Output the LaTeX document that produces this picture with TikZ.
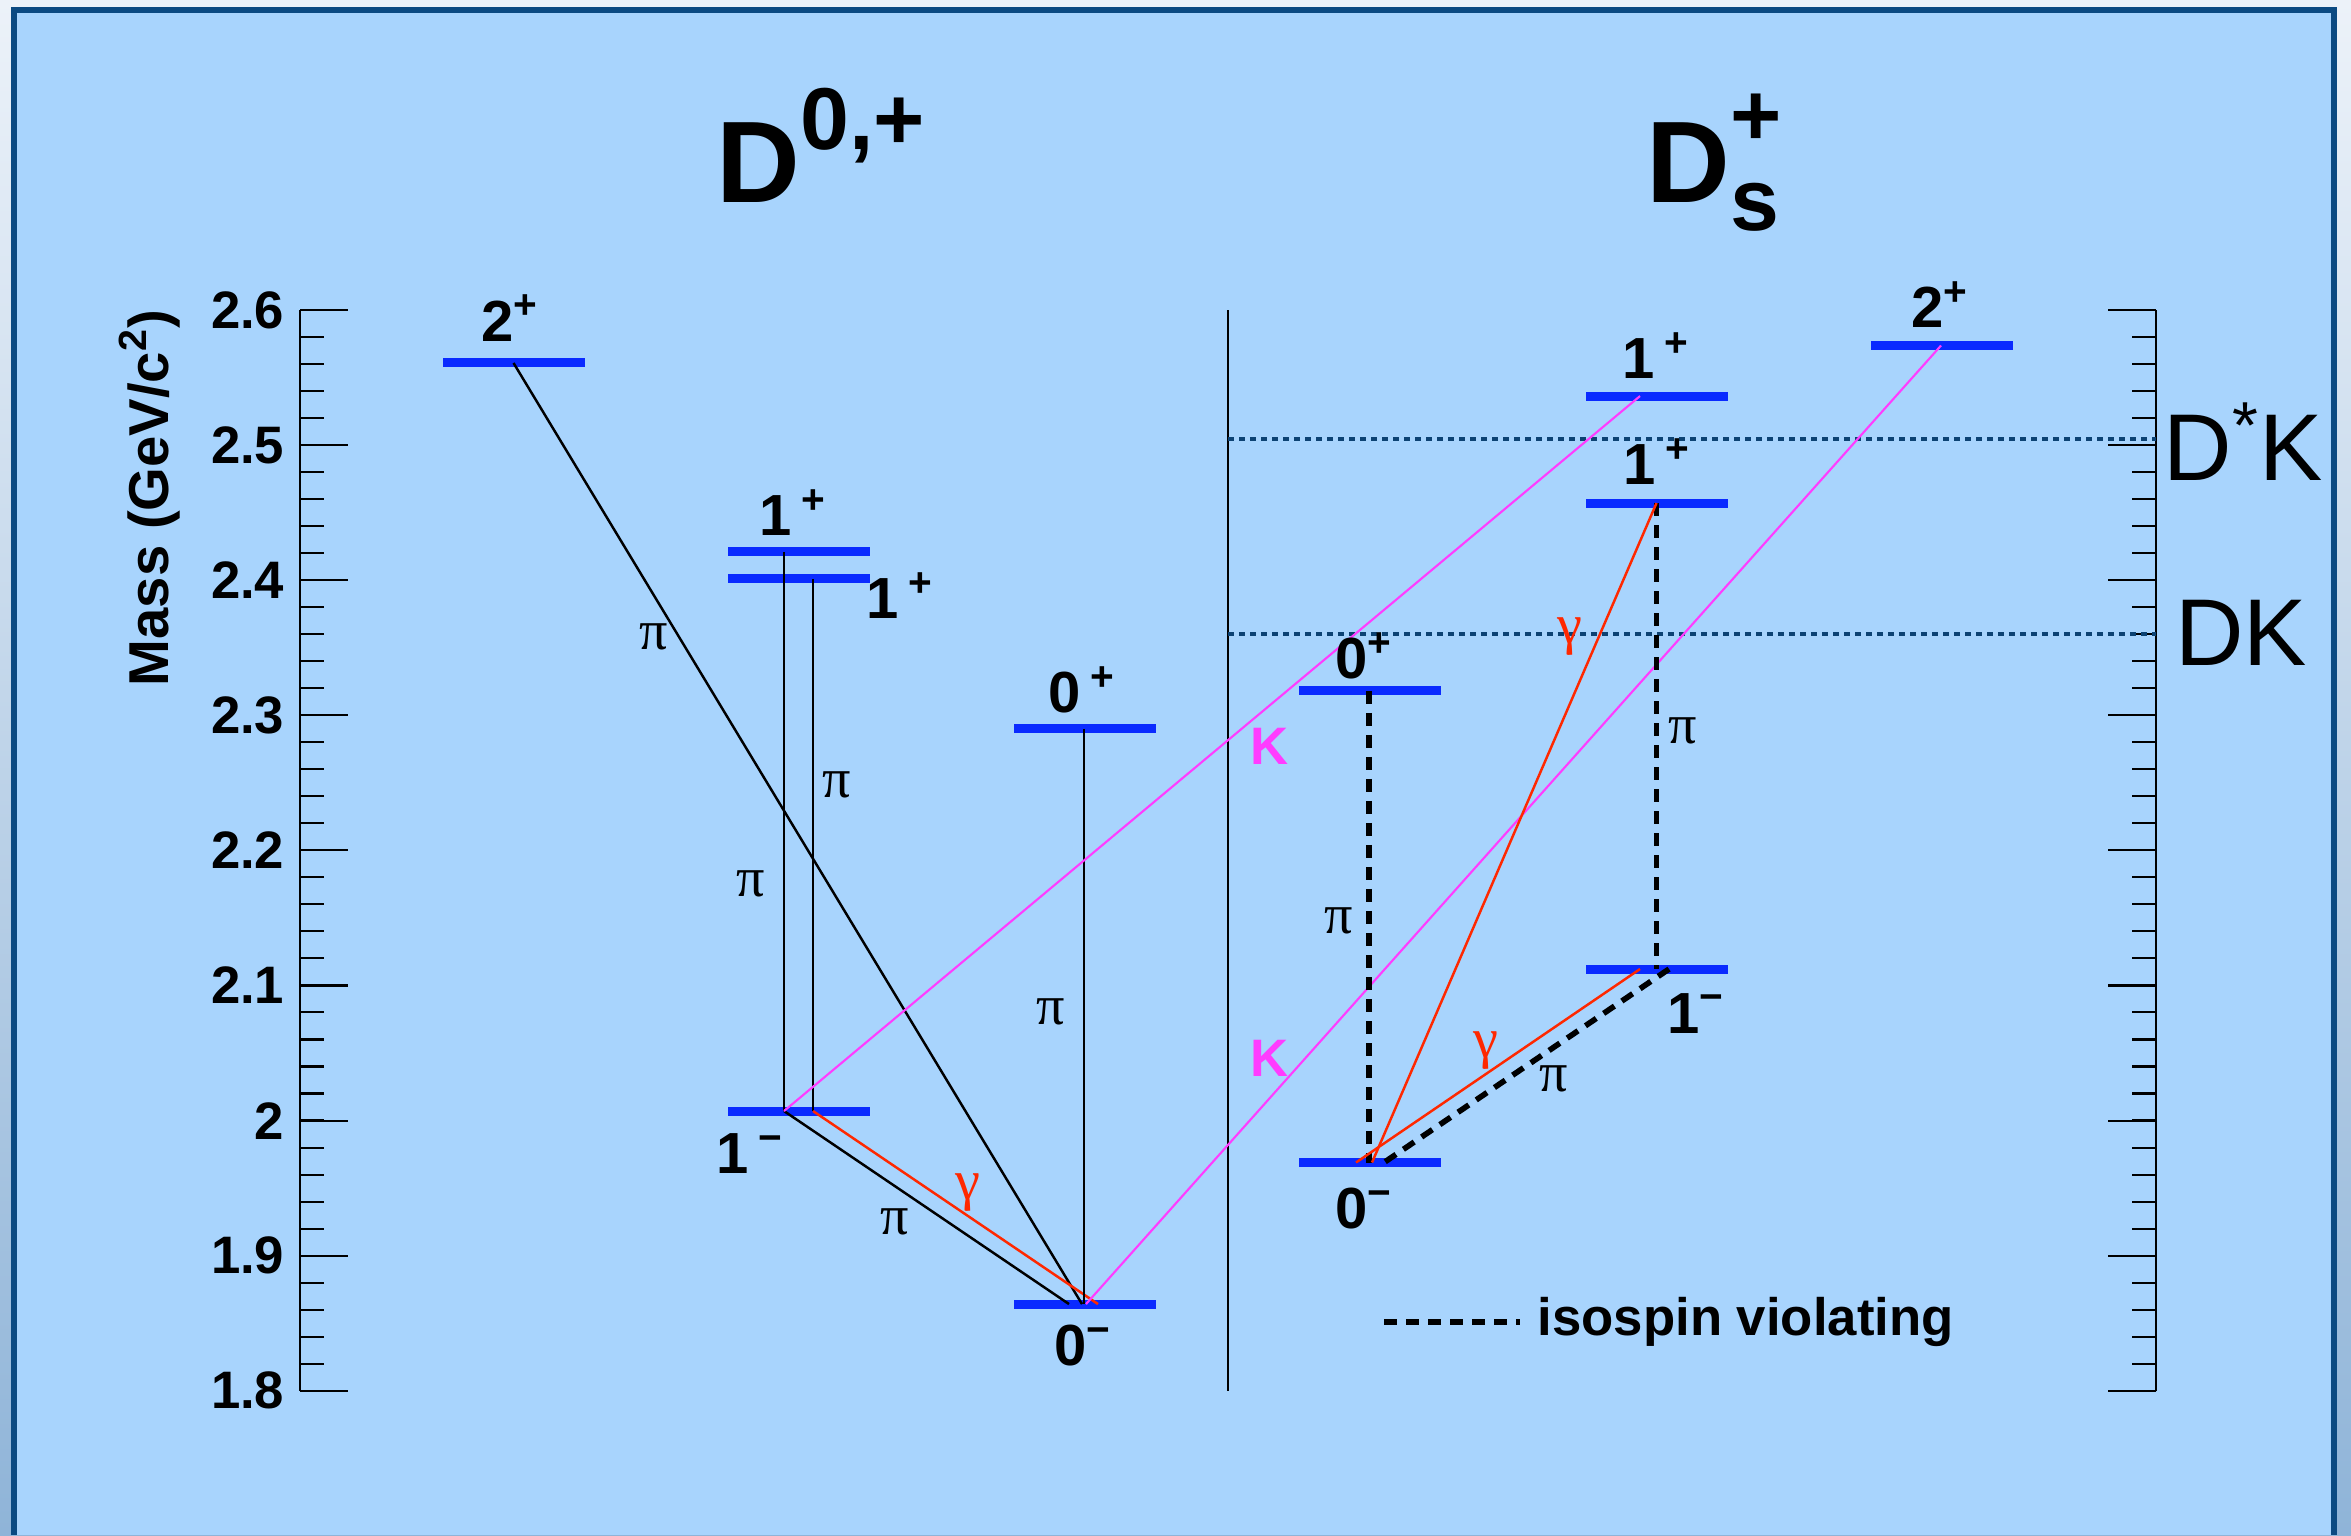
\documentclass[tikz,border=0pt]{standalone}
\usepackage{fontspec}
\setmainfont{Liberation Sans}
\newfontfamily\greekfont{Liberation Serif}

\begin{document}
\begin{tikzpicture}[
    bar/.style={fill=lvlblue, minimum width=1.42cm, minimum height=0.09cm, inner sep=0pt},
    axis/.style={black, line width=0.8pt},
    tick/.style={black, line width=0.6pt},
    ticklab/.style={font=\bfseries\fontsize{15}{18}\selectfont, inner sep=0pt},
    title/.style={font=\bfseries\fontsize{33}{40}\selectfont, inner sep=0pt},
    thrlab/.style={font=\fontsize{27}{32}\selectfont, inner sep=0pt},
    jp/.style={font=\bfseries\fontsize{16.5}{20}\selectfont, inner sep=0pt},
    pilab/.style={font=\greekfont\fontsize{16}{19}\selectfont, inner sep=0pt},
    glab/.style={pilab, text=gamred},
    klab/.style={font=\bfseries\fontsize{15}{18}\selectfont, text=kmag, inner sep=0pt},
    legtxt/.style={font=\bfseries\fontsize{15}{18}\selectfont, inner sep=0pt},
    pitr/.style={black, line width=0.7pt},
    gtr/.style={gamred, line width=0.7pt},
    ktr/.style={kmag, line width=0.6pt},
    isov/.style={black, line width=1.6pt, dash pattern=on 0.13cm off 0.09cm},
    thr/.style={thrblue, line width=1.2pt, dash pattern=on 0.06cm off 0.05cm}
  ]
    \definecolor{pagetop}{RGB}{236,242,249}
    \definecolor{pagebot}{RGB}{143,180,216}
    \definecolor{panel}{RGB}{168,212,253}
    \definecolor{frameblue}{RGB}{11,74,130}
    \definecolor{lvlblue}{RGB}{10,42,255}
    \definecolor{kmag}{RGB}{255,60,255}
    \definecolor{gamred}{RGB}{255,40,0}
    \definecolor{thrblue}{RGB}{12,66,115}

    \useasboundingbox (0,0) rectangle (23.51,15.35);
    \shade[top color=pagetop, bottom color=pagebot] (0,0) rectangle (23.51,15.35);
    \fill[panel] (0.138,0) rectangle (23.34,15.25);
    \draw[frameblue, line width=0.055cm] (0.138,0) -- (0.138,15.25) -- (23.34,15.25) -- (23.34,0);

    % mass scale: x in cm, y in GeV/c^2
    \begin{scope}[y=13.51cm, yshift=-22.876cm]

    % axes
    \draw[axis] (3.00,1.8) -- (3.00,2.6);
    \draw[axis] (21.56,1.8) -- (21.56,2.6);
    \foreach \i in {0,...,40} {
        \draw[tick] (3.00,{1.8+0.02*\i}) -- (3.24,{1.8+0.02*\i});
        \draw[tick] (21.56,{1.8+0.02*\i}) -- (21.32,{1.8+0.02*\i});
    }
    \foreach \i in {0,...,8} {
        \draw[tick] (3.00,{1.8+0.1*\i}) -- (3.48,{1.8+0.1*\i});
        \draw[tick] (21.56,{1.8+0.1*\i}) -- (21.08,{1.8+0.1*\i});
    }
    \foreach \m/\lab [count=\k] in {1.8/1.8,1.9/1.9,2/2,2.1/2.1,2.2/2.2,2.3/2.3,2.4/2.4,2.5/2.5,2.6/2.6}
        \node[ticklab, anchor=east] (tl\k) at (2.85,\m) {\lab};
    \node[ticklab, font=\bfseries\fontsize{16}{19}\selectfont, rotate=90] (ylab) at (1.50,2.461) {Mass (GeV/c\textsuperscript{2})};

    % titles
    \node[title, anchor=base west] (tD) at (7.16,2.6799) {D\raisebox{15pt}{\fontsize{25}{30}\selectfont 0,+}};
    \node[title, anchor=base west] (tDs) at (16.46,2.6799) {D\rlap{\raisebox{16pt}{\fontsize{25}{30}\selectfont +}}\raisebox{-8pt}{\fontsize{25}{30}\selectfont s}};

    % separator and thresholds
    \draw[axis] (12.28,1.8) -- (12.28,2.6);
    \draw[thr] (12.28,2.5045) -- (21.56,2.5045);
    \draw[thr] (12.28,2.360) -- (21.56,2.360);
    \node[thrlab, anchor=base west] (DsK) at (21.63,2.474) {D\textsuperscript{*}K};
    \node[thrlab, anchor=base west] (DK) at (21.745,2.337) {DK};

    % levels
    \node[bar] (D2) at (5.135,2.5608) {};
    \node[bar] (D1a) at (7.985,2.4209) {};
    \node[bar] (D1b) at (7.985,2.4009) {};
    \node[bar] (D0p) at (10.85,2.2899) {};
    \node[bar] (D1m) at (7.985,2.0071) {};
    \node[bar] (D0m) at (10.85,1.8642) {};
    \node[bar] (S0p) at (13.70,2.318) {};
    \node[bar] (S0m) at (13.70,1.969) {};
    \node[bar] (S1a) at (16.565,2.5363) {};
    \node[bar] (S1b) at (16.565,2.4571) {};
    \node[bar] (S1m) at (16.565,2.1122) {};
    \node[bar] (S2) at (19.415,2.5737) {};

    % transitions
    \draw[pitr] (D2.center) -- ([xshift=-0.3mm]D0m.center);
    \draw[pitr] ([xshift=-1.45mm]D1a.center) -- ([xshift=-1.45mm]D1m.center);
    \draw[pitr] ([xshift=1.45mm]D1b.center) -- ([xshift=1.45mm]D1m.center);
    \draw[pitr] ([xshift=-1.45mm]D1m.center) -- ([xshift=-1.6mm]D0m.center);
    \draw[gtr] ([xshift=1.45mm]D1m.center) -- ([xshift=1.3mm]D0m.center);
    \draw[pitr] ([xshift=-0.1mm]D0p.center) -- ([xshift=-0.1mm]D0m.center);
    \draw[ktr] ([xshift=-1.45mm]D1m.center) -- ([xshift=-1.65mm]S1a.center);
    \draw[ktr] ([xshift=0.1mm]D0m.center) -- ([xshift=-0.05mm]S2.center);
    \draw[isov] ([xshift=-0.1mm]S0p.center) -- ([xshift=-0.1mm]S0m.center);
    \draw[isov] (S1b.center) -- (S1m.center);
    \draw[gtr] (S1b.center) -- ([xshift=0.2mm]S0m.center);
    \draw[gtr] ([xshift=-1.65mm]S1m.center) -- ([xshift=-1.4mm]S0m.center);
    \draw[isov] ([xshift=1.25mm]S1m.center) -- ([xshift=1.4mm]S0m.center);

    % spin-parity labels
    \node[jp] (lD2) at (5.10,2.594) {2\textsuperscript{+}};
    \node[jp] (lD1a) at (7.93,2.4497) {1\,\textsuperscript{+}};
    \node[jp] (lD1b) at (9.00,2.3883) {1\,\textsuperscript{+}};
    \node[jp] (lD0p) at (10.82,2.3187) {0\,\textsuperscript{+}};
    \node[jp] (lD1m) at (7.50,1.9753) {1\,\textsuperscript{−}};
    \node[jp] (lD0m) at (10.83,1.8332) {0\textsuperscript{−}};
    \node[jp] (lS1a) at (16.56,2.566) {1\,\textsuperscript{+}};
    \node[jp] (lS1b) at (16.57,2.4875) {1\,\textsuperscript{+}};
    \node[jp] (lS0p) at (13.64,2.3439) {0\textsuperscript{+}};
    \node[jp] (lS0m) at (13.64,1.9346) {0\textsuperscript{−}};
    \node[jp] (lS1m) at (16.96,2.0796) {1\textsuperscript{−}};
    \node[jp] (lS2) at (19.40,2.6037) {2\textsuperscript{+}};

    % decay labels
    \node[pilab] (p1) at (6.54,2.358) {π};
    \node[pilab] (p2) at (7.51,2.1751) {π};
    \node[pilab] (p3) at (8.37,2.2484) {π};
    \node[pilab] (p4) at (8.95,1.925) {π};
    \node[pilab] (p5) at (10.51,2.0804) {π};
    \node[pilab] (p6) at (13.39,2.1477) {π};
    \node[pilab] (p7) at (16.83,2.2884) {π};
    \node[pilab] (p8) at (15.54,2.0308) {π};
    \node[glab] (g1) at (9.68,1.9464) {γ};
    \node[glab] (g2) at (15.70,2.358) {γ};
    \node[glab] (g3) at (14.86,2.0515) {γ};
    \node[klab] (k1) at (12.70,2.2773) {K};
    \node[klab] (k2) at (12.70,2.0463) {K};

    % legend
    \coordinate (lg1) at (13.84,1.851);
    \coordinate (lg2) at (15.20,1.851);
    \draw[isov] (lg1) -- (lg2);
    \node[legtxt, anchor=west] (lgt) at (15.37,1.851) {isospin violating};

    \end{scope}
\end{tikzpicture}
\end{document}
